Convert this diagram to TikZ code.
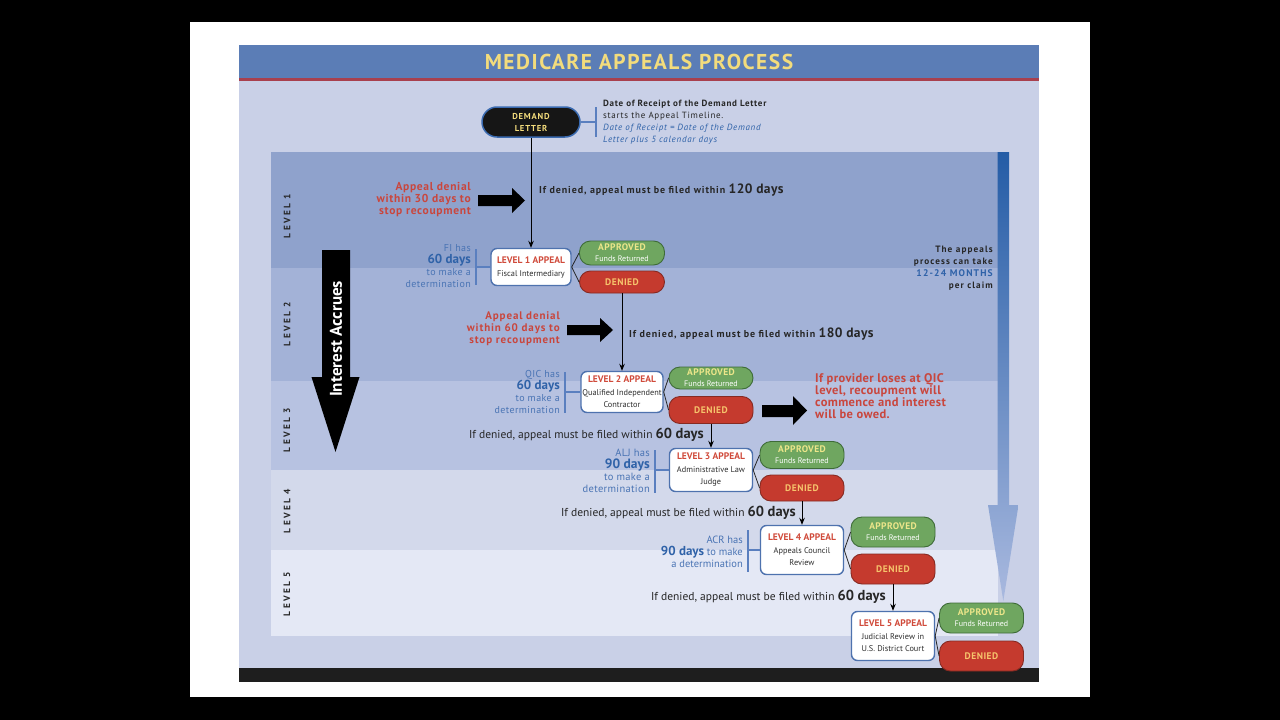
\documentclass[tikz,border=0pt]{standalone}
\usepackage{fontspec}
\setmainfont{PT Sans}
\usetikzlibrary{arrows.meta}
\definecolor{titlebar}{HTML}{5B7DB6}
\definecolor{redline}{HTML}{A8404E}
\definecolor{panel}{HTML}{C9D0E7}
\definecolor{bandA}{HTML}{8FA2CC}
\definecolor{bandB}{HTML}{A3B2D7}
\definecolor{bandC}{HTML}{B7C2E1}
\definecolor{bandD}{HTML}{D3D9EB}
\definecolor{bandE}{HTML}{E4E8F5}
\definecolor{darkbar}{HTML}{1E1E1E}
\definecolor{titleyel}{HTML}{F3DC7C}
\definecolor{demandfill}{HTML}{161616}
\definecolor{demandblue}{HTML}{3A6AB0}
\definecolor{boxblue}{HTML}{4E72AE}
\definecolor{bracketblue}{HTML}{5A7FBF}
\definecolor{dayblue}{HTML}{2F62A8}
\definecolor{infoblue}{HTML}{4A74B4}
\definecolor{lvlred}{HTML}{D04A3A}
\definecolor{redtxt}{HTML}{C9463D}
\definecolor{boxtxt}{HTML}{2E2E2E}
\definecolor{apprfill}{HTML}{6FA660}
\definecolor{apprdark}{HTML}{3E6B38}
\definecolor{apprtxt}{HTML}{EDE68A}
\definecolor{denyfill}{HTML}{C53A2E}
\definecolor{denydark}{HTML}{862A22}
\definecolor{denytxt}{HTML}{F6C46C}
\definecolor{rbtop}{HTML}{245CA6}
\definecolor{rbbot}{HTML}{A9B9DF}
\definecolor{darktxt}{HTML}{262626}
\newcommand\fsz[2]{\fontsize{#1}{#2}\selectfont}
\newcommand\apv{{\fsz{9.5}{10}\bfseries\color{apprtxt}\addfontfeature{LetterSpace=4}APPROVED}\\[-1pt]{\fsz{8}{8.5}\color{white}Funds Returned}}
\newcommand\dny{{\fsz{9.5}{10}\bfseries\color{denytxt}\addfontfeature{LetterSpace=5}DENIED}}
\newcommand\lvt[1]{{\fsz{9.5}{10.5}\bfseries\color{lvlred}LEVEL #1 APPEAL}}
\newcommand\sub[1]{{\fsz{8.3}{9.5}\color{boxtxt}#1}}
\newcommand\ifden[1]{{\fsz{11.5}{12}\color{darktxt}If denied, appeal must be filed within }{\fsz{14.5}{14}\bfseries\color{darktxt}#1}}
\newcommand\ifdenw[1]{{\fsz{10}{12}\bfseries\color{darktxt}\addfontfeature{LetterSpace=9}If denied, appeal must be filed within }{\fsz{13.5}{14}\bfseries\color{darktxt}\addfontfeature{LetterSpace=3}#1}}
\newcommand\dn[1]{{\fsz{9}{8.4}#1}}
\begin{document}
\begin{tikzpicture}[x=1pt,y=-1pt,
  abox/.style={draw=boxblue,line width=1.4pt,fill=white,rounded corners=6pt,align=center,inner sep=0pt},
  appr/.style={draw=apprdark,line width=0.9pt,fill=apprfill,rounded corners=11pt,align=center,inner sep=0pt},
  deny/.style={draw=denydark,line width=0.9pt,fill=denyfill,rounded corners=11pt,align=center,inner sep=0pt},
  flow/.style={draw=black,line width=0.9pt,-{Stealth[length=7pt,width=5.5pt]}},
  link/.style={draw=black!85,line width=0.8pt},
  brk/.style={draw=bracketblue,line width=1.4pt},
  info/.style={align=right,inner sep=0pt,color=infoblue},
  lvllab/.style={rotate=90,inner sep=0pt,font=\fsz{9.3}{9}\bfseries\addfontfeature{LetterSpace=25},color=darktxt},
  redlab/.style={align=right,inner sep=0pt,color=redtxt}]
\useasboundingbox (0,0) rectangle (1280,720);
% backgrounds
\fill[black] (0,0) rectangle (1280,720);
\fill[white] (190,22) rectangle (1090,697);
\fill[panel] (239,45) rectangle (1039,682);
\fill[titlebar] (239,45) rectangle (1039,78);
\fill[redline] (239,78) rectangle (1039,80.5);
\fill[darkbar] (239,668) rectangle (1039,682);
\fill[bandA] (271,152) rectangle (998,268);
\fill[bandB] (271,268) rectangle (998,381);
\fill[bandC] (271,381) rectangle (998,470);
\fill[bandD] (271,470) rectangle (998,550);
\fill[bandE] (271,550) rectangle (998,636);
% title
\node (title) at (639,62) {\fsz{21.5}{22}\bfseries\color{titleyel}\addfontfeature{LetterSpace=7}MEDICARE APPEALS PROCESS};
% level labels
\node[lvllab] (lv1) at (287,216) {LEVEL 1};
\node[lvllab] (lv2) at (287,324) {LEVEL 2};
\node[lvllab] (lv3) at (287,430) {LEVEL 3};
\node[lvllab] (lv4) at (287,511) {LEVEL 4};
\node[lvllab] (lv5) at (287,594) {LEVEL 5};
% right time arrow
\shade[top color=rbtop,bottom color=rbbot] (997.5,152) -- (1009,152) -- (1009,505) -- (1018.5,505) -- (1003.3,601) -- (988,505) -- (997.5,505) -- cycle;
\node[anchor=east,align=right,inner sep=0pt] (months) at (993,268)
  {\fsz{9.2}{12.5}\bfseries\color{darktxt}\addfontfeature{LetterSpace=12}The appeals\\
   \fsz{9.2}{12.5}\bfseries\color{darktxt}\addfontfeature{LetterSpace=12}process can take\\
   {\fsz{9.6}{12.5}\bfseries\color{dayblue}\addfontfeature{LetterSpace=12}12-24 MONTHS}\\
   \fsz{9.2}{11}\bfseries\color{darktxt}\addfontfeature{LetterSpace=12}per claim};
% interest accrues arrow
\fill[black] (322,250) -- (350,250) -- (350,377) -- (359.5,377) -- (335.5,452) -- (311.5,377) -- (322,377) -- cycle;
\node[rotate=90,inner sep=0pt] (interest) at (336,339) {\fsz{17}{18}\bfseries\color{white}Interest Accrues};
% demand letter
\node[draw=demandblue,line width=1.5pt,fill=demandfill,rounded corners=15pt,minimum width=98pt,minimum height=30pt,align=center,inner sep=0pt] (demand) at (531,122)
  {\fsz{8.6}{9.5}\bfseries\color{titleyel}\addfontfeature{LetterSpace=9}DEMAND\\\fsz{8.6}{9.5}\bfseries\color{titleyel}\addfontfeature{LetterSpace=9}LETTER};
\coordinate (dbt) at (596,107);
\coordinate (dbb) at (596,137);
\draw[brk] (dbt) -- (dbb);
\draw[brk] (demand.east) -- (demand.east -| dbt);
\node[anchor=west,align=left,inner sep=0pt] (dnote) at (603,122.5)
  {\dn{\bfseries\color{darktxt}\addfontfeature{LetterSpace=8}Date of Receipt of the Demand Letter}\\
   \dn{\color{darktxt}\addfontfeature{LetterSpace=8}starts the Appeal Timeline.}\\
   \dn{\itshape\color{dayblue}\addfontfeature{LetterSpace=8}Date of Receipt = Date of the Demand}\\
   \dn{\itshape\color{dayblue}\addfontfeature{LetterSpace=8}Letter plus 5 calendar days}};
% ---------- level 1
\node[abox,minimum width=80pt,minimum height=37pt] (l1box) at (531,267) {\lvt{1}\\[1pt]\sub{Fiscal Intermediary}};
\node[appr,minimum width=85pt,minimum height=24pt] (l1a) at (622,253) {\apv};
\node[deny,minimum width=85pt,minimum height=22pt] (l1d) at (622,282) {\dny};
\draw[flow] (demand.south) -- (l1box.north);
\draw[link] (l1box.east) -- (l1a.west);
\draw[link] (l1box.east) -- (l1d.west);
\coordinate (b1t) at (476,249);
\coordinate (b1b) at (476,285);
\draw[brk] (b1t) -- (b1b);
\draw[brk] (l1box.west) -- (l1box.west -| b1t);
\node[info,anchor=east] (i1) at (471,266)
  {{\fsz{10}{10}\addfontfeature{LetterSpace=4}FI has}\\{\fsz{13}{11}\bfseries\color{dayblue}60 days}\\{\fsz{10}{10.5}\addfontfeature{LetterSpace=4}to make a}\\{\fsz{10}{10}\addfontfeature{LetterSpace=4}determination}};
\fill[black] (478,195) -- (512,195) -- (512,188) -- (525,200.5) -- (512,213) -- (512,206) -- (478,206) -- cycle;
\node[redlab,anchor=east] (r1) at (471,200) {\fsz{11.5}{13}\bfseries\addfontfeature{LetterSpace=6}Appeal denial\\\fsz{11.5}{13}\bfseries\addfontfeature{LetterSpace=6}within 30 days to\\\fsz{11.5}{13}\bfseries\addfontfeature{LetterSpace=6}stop recoupment};
\node[anchor=west,inner sep=0pt] (f1) at (539,190) {\ifdenw{120 days}};
% ---------- level 2
\node[abox,minimum width=82pt,minimum height=41pt] (l2box) at (622,392) {\lvt{2}\\[1pt]\sub{Qualified Independent}\\\sub{Contractor}};
\node[appr,minimum width=84pt,minimum height=22pt] (l2a) at (711,378) {\apv};
\node[deny,minimum width=84pt,minimum height=27pt] (l2d) at (711,410) {\dny};
\draw[flow] (l1d.south) -- (l2box.north);
\draw[link] (l2box.east) -- (l2a.west);
\draw[link] (l2box.east) -- (l2d.west);
\coordinate (b2t) at (565,372);
\coordinate (b2b) at (565,413);
\draw[brk] (b2t) -- (b2b);
\draw[brk] (l2box.west) -- (l2box.west -| b2t);
\node[info,anchor=east] (i2) at (560,392)
  {{\fsz{10}{10}\addfontfeature{LetterSpace=4}QIC has}\\{\fsz{13}{11}\bfseries\color{dayblue}60 days}\\{\fsz{10}{11.5}\addfontfeature{LetterSpace=4}to make a}\\{\fsz{10}{11}\addfontfeature{LetterSpace=4}determination}};
\fill[black] (567,325) -- (600,325) -- (600,318) -- (613,330) -- (600,342) -- (600,335) -- (567,335) -- cycle;
\node[redlab,anchor=east] (r2) at (560,329) {\fsz{11}{11}\bfseries\addfontfeature{LetterSpace=8}Appeal denial\\\fsz{11}{11}\bfseries\addfontfeature{LetterSpace=8}within 60 days to\\\fsz{11}{11}\bfseries\addfontfeature{LetterSpace=8}stop recoupment};
\node[anchor=west,inner sep=0pt] (f2) at (629,334) {\ifdenw{180 days}};
\fill[black] (762,405) -- (793,405) -- (793,396) -- (807,410.5) -- (793,425) -- (793,417) -- (762,417) -- cycle;
\node[anchor=west,align=left,inner sep=0pt,color=redtxt] (qic) at (815,396)
  {\fsz{12.5}{13.3}\bfseries\addfontfeature{LetterSpace=3}If provider loses at QIC\\\fsz{12.5}{13.3}\bfseries\addfontfeature{LetterSpace=3}level, recoupment will\\\fsz{12.5}{13.3}\bfseries\addfontfeature{LetterSpace=3}commence and interest\\\fsz{12.5}{13.3}\bfseries\addfontfeature{LetterSpace=3}will be owed.};
% ---------- level 3
\node[abox,minimum width=83pt,minimum height=43pt] (l3box) at (711,470) {\lvt{3}\\[1pt]\sub{Administrative Law}\\\sub{Judge}};
\node[appr,minimum width=84pt,minimum height=27pt] (l3a) at (802,455) {\apv};
\node[deny,minimum width=84pt,minimum height=26pt] (l3d) at (802,488) {\dny};
\draw[flow] (l2d.south) -- (l3box.north);
\draw[link] (l3box.east) -- (l3a.west);
\draw[link] (l3box.east) -- (l3d.west);
\coordinate (b3t) at (655,450);
\coordinate (b3b) at (655,493);
\draw[brk] (b3t) -- (b3b);
\draw[brk] (l3box.west) -- (l3box.west -| b3t);
\node[info,anchor=east] (i3) at (650,471)
  {{\fsz{10.5}{10}\addfontfeature{LetterSpace=3}ALJ has}\\{\fsz{13.5}{12}\bfseries\color{dayblue}90 days}\\{\fsz{10.5}{12}\addfontfeature{LetterSpace=3}to make a}\\{\fsz{10.5}{11}\addfontfeature{LetterSpace=3}determination}};
\node[anchor=east,inner sep=0pt] (f3) at (704,435) {\ifden{60 days}};
% ---------- level 4
\node[abox,minimum width=83pt,minimum height=49pt] (l4box) at (802,550) {\lvt{4}\\[1pt]\sub{Appeals Council}\\\sub{Review}};
\node[appr,minimum width=84pt,minimum height=30pt] (l4a) at (893,532) {\apv};
\node[deny,minimum width=84pt,minimum height=30pt] (l4d) at (893,569) {\dny};
\draw[flow] (l3d.south) -- (l4box.north);
\draw[link] (l4box.east) -- (l4a.west);
\draw[link] (l4box.east) -- (l4d.west);
\coordinate (b4t) at (748,530);
\coordinate (b4b) at (748,572);
\draw[brk] (b4t) -- (b4b);
\draw[brk] (l4box.west) -- (l4box.west -| b4t);
\node[info,anchor=east] (i4) at (743,552)
  {{\fsz{10.5}{12}ACR has}\\{\fsz{13}{12.5}\bfseries\color{dayblue}90 days}{\fsz{10.5}{12.5} to make}\\{\fsz{10.5}{12.5}a determination}};
\node[anchor=east,inner sep=0pt] (f4) at (796,513) {\ifden{60 days}};
% ---------- level 5
\node[abox,minimum width=83pt,minimum height=49pt] (l5box) at (893,636) {\lvt{5}\\[1pt]\sub{Judicial Review in}\\\sub{U.S. District Court}};
\node[appr,minimum width=84pt,minimum height=30pt] (l5a) at (981.5,618) {\apv};
\node[deny,minimum width=84pt,minimum height=30pt] (l5d) at (981.5,656) {\dny};
\draw[flow] (l4d.south) -- (l5box.north);
\draw[link] (l5box.east) -- (l5a.west);
\draw[link] (l5box.east) -- (l5d.west);
\node[anchor=east,inner sep=0pt] (f5) at (886,597) {\ifden{60 days}};
\end{tikzpicture}
\end{document}
